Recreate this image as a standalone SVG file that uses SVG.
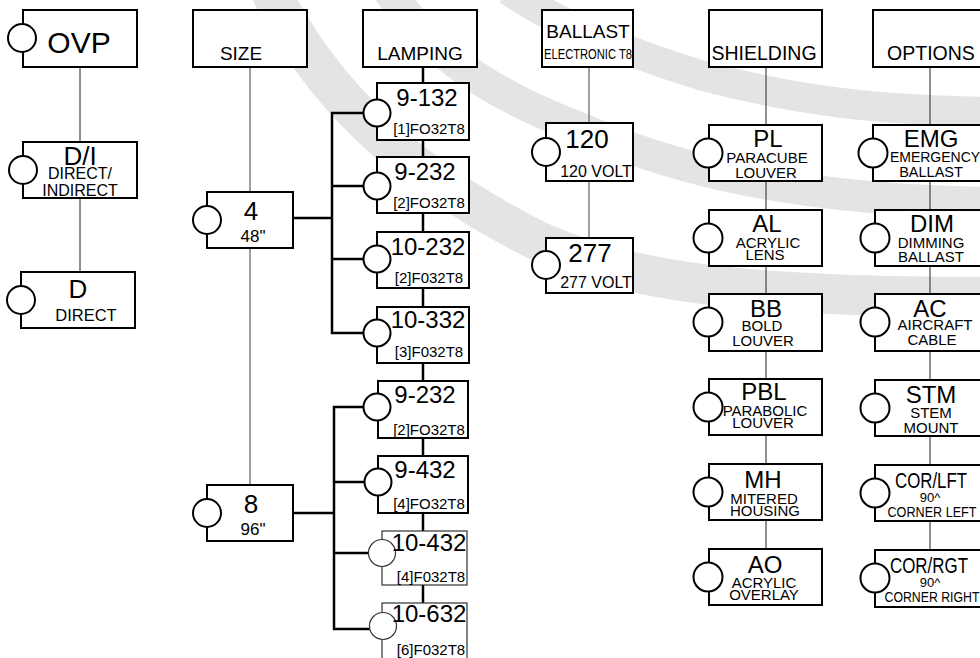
<svg xmlns="http://www.w3.org/2000/svg" width="980" height="658" viewBox="0 0 980 658">
<style>
.bg{fill:#fff}
.band{fill:none;stroke:#e4e4e4}
.box{fill:#fff;stroke:#000;stroke-width:2}
.boxl{fill:#fff;stroke:#333;stroke-width:1.2}
.knob{fill:#fff;stroke:#000;stroke-width:2}
.knobl{fill:#fff;stroke:#333;stroke-width:1.2}
.ln{stroke:#222;stroke-width:1;fill:none}
.lg{stroke:#808080;stroke-width:1.5;fill:none}
.lt{stroke:#000;stroke-width:2.5;fill:none}
text{font-family:"Liberation Sans",Arial,sans-serif;fill:#000;text-anchor:middle}
.big{font-size:24px}
.xbig{font-size:30px}
.hdr{font-size:19px}
.sub{font-size:15px}
.sm{font-size:13px}
</style>
<rect class="bg" x="0" y="0" width="980" height="658"/>
<g id="background">
<path class="band" stroke-width="40" d="M 270,-10 C 320,90 400,170 530,237 C 640,292 800,296 990,297"/>
<path class="band" stroke-width="32" d="M 388,-10 C 430,50 480,90 577,127 C 680,172 800,200 990,203"/>
<path class="band" stroke-width="30" d="M 508,-10 C 560,25 620,50 700,75 C 800,102 880,110 990,112"/>
</g>
<g id="connectors">
<line class="ln" x1="80" y1="67" x2="80" y2="142"/>
<line class="ln" x1="80" y1="198" x2="80" y2="272"/>
<line class="lg" x1="250" y1="67" x2="250" y2="192"/>
<line class="lg" x1="250" y1="248" x2="250" y2="485"/>
<polyline class="lt" points="293,218 332,218"/>
<polyline class="lt" points="364,113 332,113 332,333 364,333"/>
<line class="lt" x1="332" y1="186" x2="364" y2="186"/>
<line class="lt" x1="332" y1="259" x2="364" y2="259"/>
<polyline class="lt" points="293,513 334,513"/>
<polyline class="lt" points="364,407 334,407 334,629 370,629"/>
<line class="lt" x1="334" y1="482" x2="364" y2="482"/>
<line class="lt" x1="334" y1="553" x2="369" y2="553"/>
<line class="lt" x1="423" y1="67" x2="423" y2="83"/>
<line class="lt" x1="423" y1="140" x2="423" y2="157"/>
<line class="lt" x1="423" y1="213" x2="423" y2="232"/>
<line class="lt" x1="423" y1="288" x2="423" y2="307"/>
<line class="lt" x1="423" y1="363" x2="423" y2="381"/>
<line class="lt" x1="423" y1="438" x2="423" y2="456"/>
<line class="lt" x1="423" y1="513" x2="423" y2="531"/>
<line class="lt" x1="423" y1="585" x2="423" y2="603"/>
<line class="lg" x1="589" y1="67" x2="589" y2="123"/>
<line class="lg" x1="589" y1="181" x2="589" y2="238"/>
<line class="ln" x1="766" y1="67" x2="766" y2="125"/>
<line class="ln" x1="766" y1="181" x2="766" y2="210"/>
<line class="ln" x1="766" y1="266" x2="766" y2="294"/>
<line class="ln" x1="766" y1="351" x2="766" y2="379"/>
<line class="ln" x1="766" y1="435" x2="766" y2="464"/>
<line class="ln" x1="766" y1="520" x2="766" y2="549"/>
<line class="ln" x1="930" y1="67" x2="930" y2="125"/>
<line class="ln" x1="930" y1="181" x2="930" y2="210"/>
<line class="ln" x1="930" y1="266" x2="930" y2="294"/>
<line class="ln" x1="930" y1="351" x2="930" y2="380"/>
<line class="ln" x1="930" y1="436" x2="930" y2="465"/>
<line class="ln" x1="930" y1="521" x2="930" y2="550"/>
</g>
<g id="ovp"><rect class="box" x="23" y="10" width="114" height="57"/><circle class="knob" cx="22" cy="38" r="14"/><text class="xbig" x="79" y="53">OVP</text></g>
<g id="di"><rect class="box" x="23" y="142" width="114" height="56"/><circle class="knob" cx="23" cy="170" r="14"/><text x="80" y="165" style="font-size:26px">D/I</text><text class="sub" x="80" y="179" style="font-size:16px">DIRECT/</text><text class="sub" x="80" y="196" style="font-size:16px">INDIRECT</text></g>
<g id="d"><rect class="box" x="21" y="272" width="114" height="56"/><circle class="knob" cx="21" cy="300" r="14"/><text x="78" y="298" style="font-size:26px">D</text><text x="86" y="321" style="font-size:16.5px">DIRECT</text></g>
<g id="size"><rect class="box" x="193" y="10" width="114" height="57"/><text class="hdr" x="241" y="60">SIZE</text></g>
<g id="s4"><rect class="box" x="207" y="192" width="86" height="56"/><circle class="knob" cx="207" cy="220" r="14"/><text x="251" y="220" style="font-size:26px">4</text><text x="253" y="242" style="font-size:17px">48"</text></g>
<g id="s8"><rect class="box" x="207" y="485" width="86" height="56"/><circle class="knob" cx="207" cy="513" r="14"/><text x="251" y="513" style="font-size:26px">8</text><text x="253" y="535" style="font-size:17px">96"</text></g>
<g id="lamping"><rect class="box" x="363" y="10" width="114" height="57"/><text class="hdr" x="420" y="60">LAMPING</text></g>
<g id="l9-132"><rect class="box" x="377" y="83" width="92" height="57"/><circle class="knob" cx="377" cy="113" r="13.5"/><text class="big" x="427" y="106">9-132</text><text class="sub" x="429" y="134">[1]FO32T8</text></g>
<g id="l9-232a"><rect class="box" x="377" y="157" width="92" height="56"/><circle class="knob" cx="377" cy="186" r="13.5"/><text class="big" x="425" y="180">9-232</text><text class="sub" x="429" y="208">[2]FO32T8</text></g>
<g id="l10-232"><rect class="box" x="377" y="232" width="92" height="56"/><circle class="knob" cx="377" cy="259" r="13.5"/><text class="big" x="428" y="255">10-232</text><text class="sub" x="429" y="283">[2]F032T8</text></g>
<g id="l10-332"><rect class="box" x="377" y="307" width="92" height="56"/><circle class="knob" cx="377" cy="333" r="13.5"/><text class="big" x="428" y="328">10-332</text><text class="sub" x="429" y="357">[3]F032T8</text></g>
<g id="l9-232b"><rect class="box" x="378" y="381" width="90" height="57"/><circle class="knob" cx="377" cy="407" r="13.5"/><text class="big" x="425" y="403">9-232</text><text class="sub" x="429" y="435">[2]FO32T8</text></g>
<g id="l9-432"><rect class="box" x="378" y="456" width="90" height="57"/><circle class="knob" cx="378" cy="482" r="13.5"/><text class="big" x="425" y="478">9-432</text><text class="sub" x="429" y="509">[4]FO32T8</text></g>
<g id="l10-432"><rect class="boxl" x="382" y="531" width="85" height="54"/><circle class="knobl" cx="382" cy="553" r="13.5"/><text class="big" x="429" y="551">10-432</text><text class="sub" x="431" y="582">[4]F032T8</text></g>
<g id="l10-632"><rect class="boxl" x="382" y="603" width="85" height="60"/><circle class="knobl" cx="383" cy="626" r="13.5"/><text class="big" x="429" y="622">10-632</text><text class="sub" x="431" y="655">[6]F032T8</text></g>
<g id="ballast"><rect class="box" x="542" y="10" width="91" height="57"/><text class="hdr" x="588" y="38">BALLAST</text><text x="588" y="59" style="font-size:14px" textLength="88" lengthAdjust="spacingAndGlyphs">ELECTRONIC T8</text></g>
<g id="b120"><rect class="box" x="546" y="123" width="87" height="58"/><circle class="knob" cx="546" cy="152" r="14"/><text x="587" y="148" style="font-size:26px">120</text><text class="sub" x="596" y="177" style="font-size:16px">120 VOLT</text></g>
<g id="b277"><rect class="box" x="546" y="238" width="87" height="55"/><circle class="knob" cx="546" cy="265" r="14"/><text x="590" y="262" style="font-size:26px">277</text><text class="sub" x="596" y="288" style="font-size:16px">277 VOLT</text></g>
<g id="shielding"><rect class="box" x="709" y="10" width="113" height="57"/><text x="764" y="60" style="font-size:19.5px">SHIELDING</text></g>
<g id="pl"><rect class="box" x="709" y="125" width="113" height="56"/><circle class="knob" cx="708" cy="153" r="14.5"/><text class="big" x="768" y="147">PL</text><text class="sub" x="767" y="163">PARACUBE</text><text class="sub" x="766" y="178">LOUVER</text></g>
<g id="al"><rect class="box" x="709" y="210" width="113" height="56"/><circle class="knob" cx="708" cy="238" r="14.5"/><text class="big" x="767" y="232">AL</text><text class="sub" x="768" y="248">ACRYLIC</text><text class="sub" x="765" y="260">LENS</text></g>
<g id="bb"><rect class="box" x="709" y="294" width="113" height="57"/><circle class="knob" cx="708" cy="322" r="14.5"/><text class="big" x="766" y="317">BB</text><text class="sub" x="762" y="331">BOLD</text><text class="sub" x="763" y="346">LOUVER</text></g>
<g id="pbl"><rect class="box" x="709" y="379" width="113" height="56"/><circle class="knob" cx="708" cy="407" r="14.5"/><text class="big" x="764" y="400">PBL</text><text class="sub" x="765" y="416">PARABOLIC</text><text class="sub" x="763" y="428">LOUVER</text></g>
<g id="mh"><rect class="box" x="709" y="464" width="113" height="56"/><circle class="knob" cx="708" cy="492" r="14.5"/><text class="big" x="763" y="488">MH</text><text class="sub" x="764" y="504">MITERED</text><text class="sub" x="765" y="516">HOUSING</text></g>
<g id="ao"><rect class="box" x="709" y="549" width="113" height="56"/><circle class="knob" cx="708" cy="577" r="14.5"/><text class="big" x="765" y="573">AO</text><text class="sub" x="764" y="588">ACRYLIC</text><text class="sub" x="764" y="600">OVERLAY</text></g>
<g id="options"><rect class="box" x="873" y="10" width="114" height="57"/><text x="931" y="60" style="font-size:19.5px">OPTIONS</text></g>
<g id="emg"><rect class="box" x="873" y="125" width="114" height="56"/><circle class="knob" cx="873" cy="153" r="14.5"/><text class="big" x="931" y="147">EMG</text><text x="935" y="162" style="font-size:14px">EMERGENCY</text><text x="931" y="177" style="font-size:14.5px">BALLAST</text></g>
<g id="dim"><rect class="box" x="875" y="210" width="112" height="56"/><circle class="knob" cx="875" cy="238" r="14.5"/><text class="big" x="932" y="232">DIM</text><text class="sub" x="931" y="248">DIMMING</text><text class="sub" x="931" y="262">BALLAST</text></g>
<g id="ac"><rect class="box" x="875" y="294" width="112" height="57"/><circle class="knob" cx="875" cy="322" r="14.5"/><text class="big" x="930" y="317">AC</text><text class="sub" x="935" y="330">AIRCRAFT</text><text class="sub" x="932" y="345">CABLE</text></g>
<g id="stm"><rect class="box" x="875" y="380" width="112" height="56"/><circle class="knob" cx="875" cy="408" r="14.5"/><text class="big" x="931" y="403">STM</text><text class="sub" x="931" y="418">STEM</text><text class="sub" x="931" y="433">MOUNT</text></g>
<g id="corlft"><rect class="box" x="875" y="465" width="112" height="56"/><circle class="knob" cx="875" cy="493" r="14.5"/><text x="931" y="488" style="font-size:22px" textLength="72" lengthAdjust="spacingAndGlyphs">COR/LFT</text><text class="sm" x="930" y="502">90^</text><text x="932" y="517" style="font-size:14px" textLength="89" lengthAdjust="spacingAndGlyphs">CORNER LEFT</text></g>
<g id="corrgt"><rect class="box" x="875" y="550" width="112" height="57"/><circle class="knob" cx="875" cy="578" r="14.5"/><text x="929" y="573" style="font-size:22px" textLength="78" lengthAdjust="spacingAndGlyphs">COR/RGT</text><text class="sm" x="930" y="587">90^</text><text x="932" y="602" style="font-size:14px" textLength="95" lengthAdjust="spacingAndGlyphs">CORNER RIGHT</text></g>
</svg>
